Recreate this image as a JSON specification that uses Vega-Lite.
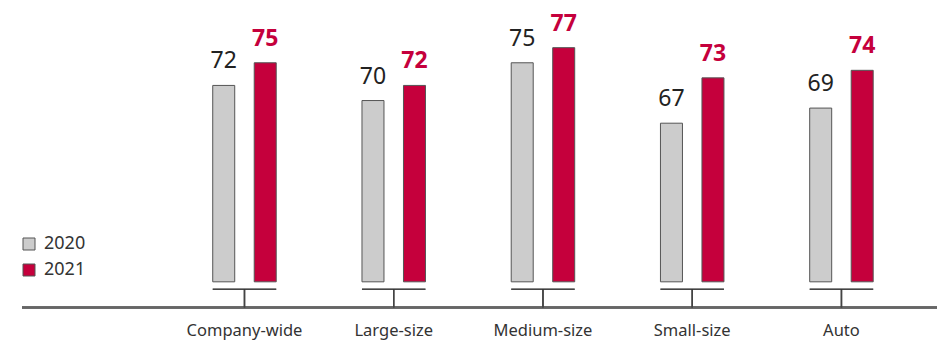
{
  "$schema": "https://vega.github.io/schema/vega-lite/v6.json",
  "autosize": {"type": "none"},
  "width": 915,
  "height": 282.5,
  "padding": {"left": 22, "top": 25, "right": 7, "bottom": 33.5},
  "config": {"view": {"stroke": null}, "font": "Noto Sans"},
  "data": {"values": [
    {"segment": "Company-wide", "year": "2020", "score": 72},
    {"segment": "Company-wide", "year": "2021", "score": 75},
    {"segment": "Large-size", "year": "2020", "score": 70},
    {"segment": "Large-size", "year": "2021", "score": 72},
    {"segment": "Medium-size", "year": "2020", "score": 75},
    {"segment": "Medium-size", "year": "2021", "score": 77},
    {"segment": "Small-size", "year": "2020", "score": 67},
    {"segment": "Small-size", "year": "2021", "score": 73},
    {"segment": "Auto", "year": "2020", "score": 69},
    {"segment": "Auto", "year": "2021", "score": 74}
  ]},
  "layer": [
    {
      "mark": {"type": "rule", "color": "#666666", "strokeWidth": 1.5},
      "encoding": {"y": {"datum": 42.6, "type": "quantitative", "axis": null}}
    },
    {
      "mark": {"type": "rule", "color": "#444444", "strokeWidth": 1.5},
      "encoding": {
        "x": {
          "field": "segment", "type": "nominal", "sort": null,
          "scale": {"paddingInner": 0.444, "paddingOuter": 0.7875, "align": 0.77},
          "axis": {"title": null, "domain": false, "ticks": false, "labelAngle": 0, "labelFontSize": 16.5, "labelColor": "#333333", "labelPadding": 15, "labelFont": "Noto Sans"}
        },
        "y": {"datum": 45, "type": "quantitative", "axis": null},
        "y2": {"datum": 42.6}
      }
    },
    {
      "mark": {"type": "tick", "color": "#333333", "thickness": 1.5, "size": 63.5},
      "encoding": {
        "x": {"field": "segment", "type": "nominal", "sort": null},
        "y": {"datum": 45, "type": "quantitative", "axis": null}
      }
    },
    {
      "transform": [{"filter": "datum.year == '2020'"}],
      "mark": {"type": "bar", "stroke": "#555555", "strokeWidth": 1, "width": 22, "xOffset": -20.75},
      "encoding": {
        "x": {"field": "segment", "type": "nominal", "sort": null},
        "y": {"field": "score", "type": "quantitative", "scale": {"domain": [42.6, 80], "zero": false, "nice": false}, "axis": null},
        "y2": {"datum": 46},
        "color": {
          "field": "year", "type": "nominal",
          "scale": {"domain": ["2020", "2021"], "range": ["#cccccc", "#c5003c"]},
          "legend": {
            "title": null, "orient": "none", "legendX": -2, "legendY": 210,
            "symbolType": "square", "symbolSize": 144, "symbolStrokeColor": "#666666", "symbolStrokeWidth": 1,
            "labelFontSize": 18, "labelColor": "#333333", "labelFont": "Noto Sans", "rowPadding": 8, "labelOffset": 6, "padding": 0
          }
        }
      }
    },
    {
      "transform": [{"filter": "datum.year == '2021'"}],
      "mark": {"type": "bar", "stroke": "#555555", "strokeWidth": 1, "width": 22, "xOffset": 20.75},
      "encoding": {
        "x": {"field": "segment", "type": "nominal", "sort": null},
        "y": {"field": "score", "type": "quantitative", "axis": null},
        "y2": {"datum": 46},
        "color": {"field": "year", "type": "nominal"}
      }
    },
    {
      "transform": [{"filter": "datum.year == '2020'"}],
      "mark": {"type": "text", "fontSize": 23, "color": "#222222", "baseline": "alphabetic", "dy": -17, "xOffset": -20.75},
      "encoding": {
        "x": {"field": "segment", "type": "nominal", "sort": null},
        "y": {"field": "score", "type": "quantitative", "axis": null},
        "text": {"field": "score", "type": "quantitative"}
      }
    },
    {
      "transform": [{"filter": "datum.year == '2021'"}],
      "mark": {"type": "text", "fontSize": 23, "fontWeight": "bold", "color": "#c5003c", "baseline": "alphabetic", "dy": -17, "xOffset": 20.75},
      "encoding": {
        "x": {"field": "segment", "type": "nominal", "sort": null},
        "y": {"field": "score", "type": "quantitative", "axis": null},
        "text": {"field": "score", "type": "quantitative"}
      }
    }
  ]
}
